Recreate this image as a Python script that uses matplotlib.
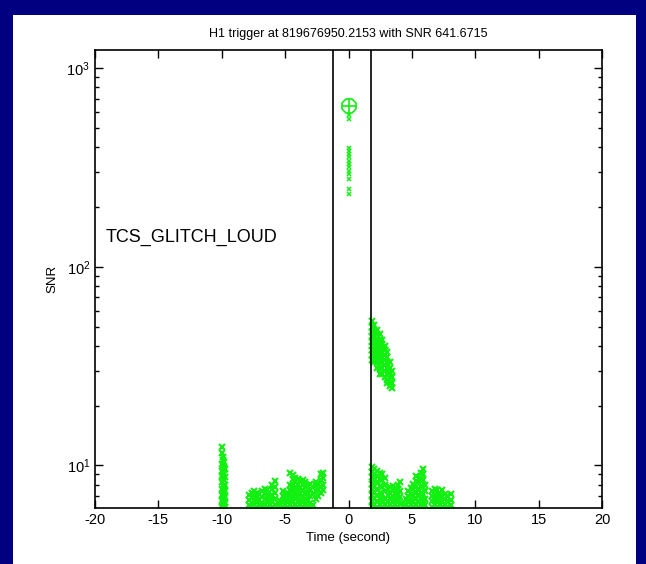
import math
import matplotlib
matplotlib.use("Agg")
import matplotlib.pyplot as plt
from matplotlib.patches import Rectangle
from matplotlib.ticker import LogLocator, FixedLocator, FuncFormatter, NullFormatter

plt.rcParams['font.family'] = ['Liberation Sans', 'DejaVu Sans']
plt.rcParams['axes.unicode_minus'] = False

# loudest trigger
peak_t = [0.0]
peak_snr = [641.6715]

# other triggers at t=0
top_t = [0.0, 0.0, 0.0, 0.0, 0.0, 0.0, 0.0, 0.0, 0.0, 0.0, 0.0, 0.0, 0.0, 0.0]
top_snr = [578, 552, 395, 382, 368, 355, 342, 330, 318, 305, 292, 276, 246, 233]

# loud tail just after the window (time, [snr values])
tail_cols = [
    (1.85, [53, 50, 47, 45, 42, 40, 38, 36, 34]),
    (2.05, [51, 48, 45, 43, 41, 39, 37, 35, 33]),
    (2.25, [48, 46, 43, 41, 39, 37, 35, 33, 31]),
    (2.45, [46, 43, 41, 39, 37, 35, 33, 31, 29]),
    (2.65, [43, 41, 39, 37, 35, 33, 31, 29]),
    (2.85, [40, 38, 36, 34, 32, 30, 28]),
    (3.05, [37, 35, 33, 31, 29, 27, 26]),
    (3.25, [33, 31, 29, 28, 26, 25]),
    (3.40, [30, 28, 26, 24.5]),
]

# quiet triggers at -10 s
m10_cols = [
    (-9.97, [12.3, 11.6, 10.2, 9.4, 8.8, 8.2, 7.6, 7.1, 6.6, 6.2]),
    (-9.90, [11.0, 10.6, 9.9, 9.1, 8.5, 7.9, 7.3, 6.8, 6.4]),
    (-9.83, [10.4, 9.7, 9.0, 8.4, 7.8, 7.2, 6.7, 6.3]),
    (-9.76, [9.6, 8.7, 8.0, 7.4, 6.9, 6.5, 6.2]),
]

# quiet triggers before the window
pre_cols = [
    (-7.85, [6.3, 6.7, 7.1]),
    (-7.65, [6.2, 6.5, 6.9, 7.3]),
    (-7.45, [6.3, 6.6, 7.0, 7.4]),
    (-7.25, [6.2, 6.6, 7.0, 7.3]),
    (-7.05, [6.3, 6.7, 7.2]),
    (-6.85, [6.2, 6.5, 6.9, 7.4]),
    (-6.60, [6.3, 6.8, 7.3, 7.6]),
    (-6.40, [6.2, 6.6, 7.1, 7.5]),
    (-6.20, [6.3, 6.7, 7.0]),
    (-6.00, [6.2, 6.6, 7.1, 7.6, 8.0]),
    (-5.80, [6.3, 6.8, 7.3, 7.8, 8.3]),
    (-5.60, [6.2, 6.5]),
    (-5.40, [6.3, 6.6]),
    (-5.20, [6.2, 6.6, 7.0, 7.4]),
    (-5.00, [6.3, 6.7, 7.1]),
    (-4.80, [6.2, 6.6, 6.9, 7.3]),
    (-4.60, [6.3, 6.7, 7.1, 7.5, 8.0, 9.2]),
    (-4.40, [6.2, 6.6, 7.0, 7.5, 8.0, 8.5, 8.9]),
    (-4.20, [6.3, 6.8, 7.2, 7.7, 8.2, 8.6]),
    (-4.00, [6.2, 6.6, 7.1, 7.6, 8.1, 8.5]),
    (-3.80, [6.3, 6.7, 7.2, 7.7, 8.3]),
    (-3.60, [6.2, 6.6, 7.0, 7.5, 8.0, 8.4]),
    (-3.40, [6.3, 6.8, 7.3, 7.8, 8.2]),
    (-3.20, [6.2, 6.7, 7.3, 7.9]),
    (-3.00, [6.5, 7.0, 7.6, 8.1]),
    (-2.80, [6.3, 7.2, 7.8]),
    (-2.60, [6.8, 7.4, 8.0, 8.2]),
    (-2.40, [7.0, 7.6, 8.1]),
    (-2.20, [7.3, 7.8, 8.4, 9.0]),
    (-2.05, [7.5, 8.0, 8.6, 9.1]),
]

# quiet triggers after the window
post_cols = [
    (1.85, [6.2, 6.6, 7.1, 7.6, 8.1, 8.7, 9.3, 9.8]),
    (2.05, [6.3, 6.8, 7.3, 7.8, 8.3, 8.9, 9.6]),
    (2.25, [6.2, 6.6, 7.1, 7.6, 8.2, 8.8, 9.4]),
    (2.45, [6.3, 6.8, 7.3, 7.9, 8.5, 9.1]),
    (2.65, [6.2, 6.7, 7.2, 7.8, 8.4, 9.0]),
    (2.85, [6.3, 6.8, 7.4, 8.0, 8.6]),
    (3.10, [6.2, 6.6, 7.1, 7.6]),
    (3.30, [6.3, 6.8, 7.3, 7.8]),
    (3.50, [6.2, 6.6, 7.0, 7.5, 7.9]),
    (3.70, [6.3, 6.7, 7.2, 7.7]),
    (3.90, [6.2, 6.6, 7.1, 7.6, 8.0]),
    (4.05, [6.4, 6.9, 7.4, 8.2]),
    (4.30, [6.2, 6.5]),
    (4.50, [6.3, 6.8]),
    (4.70, [6.2, 6.6, 7.0, 7.4]),
    (4.90, [6.3, 6.7, 7.2, 7.7]),
    (5.10, [6.2, 6.6, 7.1, 7.6, 8.1]),
    (5.30, [6.3, 6.8, 7.3, 7.8, 8.3, 8.8]),
    (5.50, [6.2, 6.6, 7.1, 7.6, 8.2]),
    (5.70, [6.3, 6.8, 7.3, 7.9, 8.5, 9.2]),
    (5.85, [6.2, 6.7, 7.2, 7.8, 8.4, 9.0, 9.6]),
    (6.05, [6.3, 6.8, 7.4, 8.0]),
    (6.60, [6.2, 6.6, 7.0, 7.4]),
    (6.80, [6.3, 6.7, 7.1, 7.6]),
    (7.00, [6.2, 6.6, 7.0, 7.5]),
    (7.20, [6.3, 6.7, 7.1]),
    (7.40, [6.2, 6.6, 7.0, 7.5]),
    (7.60, [6.3, 6.8, 7.2]),
    (7.80, [6.2, 6.6, 7.0]),
    (8.05, [6.3, 6.7, 7.2]),
]

window = [-1.25, 1.8]
x_ticks = [-20, -15, -10, -5, 0, 5, 10, 15, 20]

green = '#11f011'


def flatten(cols):
    ts, ss = [], []
    for t, vals in cols:
        for v in vals:
            ts.append(t)
            ss.append(v)
    return ts, ss


fig = plt.figure(figsize=(6.46, 5.64), dpi=100)
fig.patch.set_facecolor('#000080')
# white panel inside the blue slide border
fig.patches.append(Rectangle((13 / 646, 0), 623 / 646, 549 / 564,
                             transform=fig.transFigure, facecolor='white',
                             edgecolor='none', zorder=-10))

ax = fig.add_axes([95 / 646, 1 - 508 / 564, 507 / 646, 458 / 564])
ax.set_zorder(5)
ax.set_yscale('log')
ax.set_xlim(-20, 20)
ax.set_ylim(6.1, 1233)

for cols in (m10_cols, pre_cols, post_cols, tail_cols):
    ts, ss = flatten(cols)
    ax.plot(ts, ss, linestyle='none', marker='x', ms=4.5, mew=1.5, color=green)
ax.plot(top_t, top_snr, linestyle='none', marker='x', ms=3.5, mew=1.1, color=green)
ax.plot(peak_t, peak_snr, linestyle='none', marker='8', ms=11, mew=1.2,
        fillstyle='none', color=green)
ax.plot(peak_t, peak_snr, linestyle='none', marker='+', ms=11, mew=1.2, color=green)

for w in window:
    ax.axvline(w, color='black', lw=1.2)

ax.xaxis.set_major_locator(FixedLocator(x_ticks))
ax.yaxis.set_major_locator(LogLocator(base=10))
ax.yaxis.set_minor_locator(LogLocator(base=10, subs=range(2, 10)))
ax.yaxis.set_minor_formatter(NullFormatter())
ax.yaxis.set_major_formatter(FuncFormatter(
    lambda v, p: r'$\mathregular{10^{%d}}$' % round(math.log10(v))))
ax.tick_params(which='both', direction='in', top=True, right=True,
               labelsize=10.5, width=1.0)
ax.tick_params(which='major', length=6)
ax.tick_params(which='minor', length=3)
for s in ax.spines.values():
    s.set_linewidth(1.2)

ax.set_title('H1 trigger at 819676950.2153 with SNR 641.6715', fontsize=9, pad=9)
ax.set_xlabel('Time (second)', fontsize=9.5)
ax.set_ylabel('SNR', fontsize=9.5, labelpad=6)

ax.text(-19.2, 141, 'TCS_GLITCH_LOUD', fontsize=13, va='center', ha='left')

fig.savefig('out.png', dpi=100, facecolor=fig.get_facecolor())
